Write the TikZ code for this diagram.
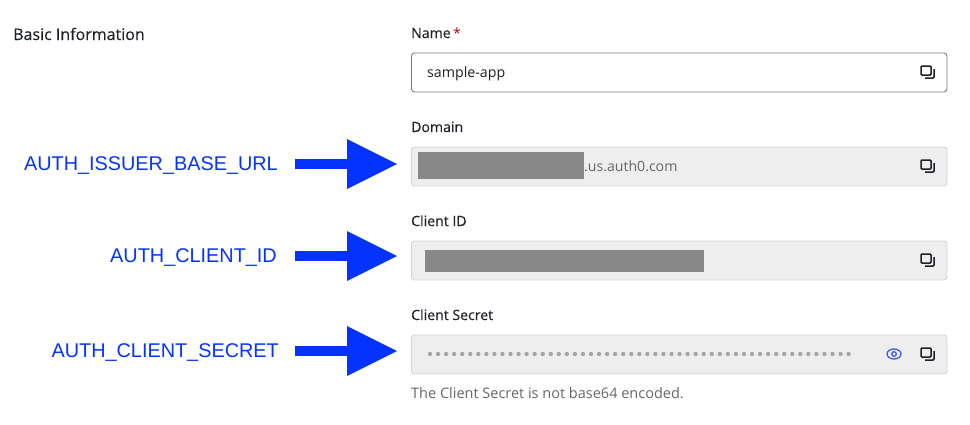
\documentclass[tikz,border=0pt]{standalone}
\usepackage{fontspec}
\setmainfont{Open Sans}
\newfontfamily\medfont[FakeBold=0.3]{Open Sans}
\newfontfamily\bluefont{Liberation Sans}
\usetikzlibrary{arrows.meta}

\definecolor{fieldgrey}{HTML}{EEEEEE}
\definecolor{fieldline}{HTML}{D2D2D2}
\definecolor{nameline}{HTML}{7C7C7C}
\definecolor{maskgrey}{HTML}{888888}
\definecolor{darktext}{HTML}{1E212A}
\definecolor{softtext}{HTML}{666666}
\definecolor{arrowblue}{HTML}{0433FF}
\definecolor{eyeblue}{HTML}{3F59E4}

\tikzset{
    fieldbox/.style={draw=fieldline, fill=fieldgrey, rounded corners=3pt, line width=0.9pt, minimum width=535.5pt, minimum height=39pt, anchor=north west, inner sep=0pt},
    caption/.style={anchor=base west, inner sep=0pt, text=darktext, font=\medfont\fontsize{14.1}{16}\selectfont},
    hint/.style={anchor=base west, inner sep=0pt, text=softtext, font=\fontsize{14.5}{16}\selectfont},
    varname/.style={anchor=east, inner sep=0pt, text height=14.5pt, text depth=2.5pt, text=arrowblue, font=\bluefont\fontsize{19.85}{22}\selectfont},
    fatarrow/.style={draw=arrowblue, line width=10pt, -{Triangle[length=50pt, width=50pt, line width=0pt]}, shorten >=14pt},
    copyicon/.pic={
        \draw[darktext, line width=1.5pt, rounded corners=1pt] (-6,-6) rectangle (4,3);
        \draw[darktext, line width=1.5pt, rounded corners=1pt] (7,-3) -- (7,6) -- (-2,6);
    }
}

\begin{document}
\begin{tikzpicture}[x=1pt, y=-1pt]
    \useasboundingbox (0,0) rectangle (970,424);

    \node(basic_info)[caption, font=\medfont\fontsize{16}{18}\selectfont] at (13,40) {Basic Information};

    % the four fields
    \node(name_label)[caption] at (411,38) {Name};
    \node(name_star)[anchor=base west, inner sep=0pt, text=red!75!black, font=\fontsize{14}{15}\selectfont] at (453,38) {*};
    \node(name_box)[fieldbox, draw=nameline, fill=white] at (411,52.5) {};
    \node(name_value)[caption, font=\fontsize{14.2}{16}\selectfont] at (427,77) {sample-app};

    \node(domain_label)[caption] at (411,132) {Domain};
    \node(domain_box)[fieldbox] at (411,146.5) {};
    \fill[maskgrey] (418,152) rectangle (584,179);
    \node(domain_value)[hint, font=\fontsize{14.1}{16}\selectfont] at (584,171) {.us.auth0.com};

    \node(client_label)[caption] at (411,226) {Client ID};
    \node(client_box)[fieldbox] at (411,240.5) {};
    \fill[maskgrey] (425,250) rectangle (704,272);

    \node(secret_label)[caption] at (411,320) {Client Secret};
    \node(secret_box)[fieldbox] at (411,334.5) {};
    \foreach \i in {0,...,52}
        \fill[black!35] (430+8.05*\i,354) circle (2.2);
    \draw[eyeblue, line width=1.3pt] (894,354) ellipse (7 and 5);
    \draw[eyeblue, line width=1.3pt] (894,354) circle (2.3);
    \node(secret_hint)[hint] at (411,398) {The Client Secret is not base64 encoded.};

    \foreach \iy in {72,166,260,354}
        \pic at (927,\iy) {copyicon};

    % names on the left, each one points at its field
    \node(issuer_name)[varname] at (278,164) {AUTH\_ISSUER\_BASE\_URL};
    \node(id_name)[varname] at (277,256) {AUTH\_CLIENT\_ID};
    \node(secret_name)[varname] at (279,351) {AUTH\_CLIENT\_SECRET};

    \draw[fatarrow, shorten <=17pt] (issuer_name.east) -- (issuer_name.east -| domain_box.west);
    \draw[fatarrow, shorten <=18pt] (id_name.east) -- (id_name.east -| client_box.west);
    \draw[fatarrow, shorten <=16pt] (secret_name.east) -- (secret_name.east -| secret_box.west);
\end{tikzpicture}
\end{document}
